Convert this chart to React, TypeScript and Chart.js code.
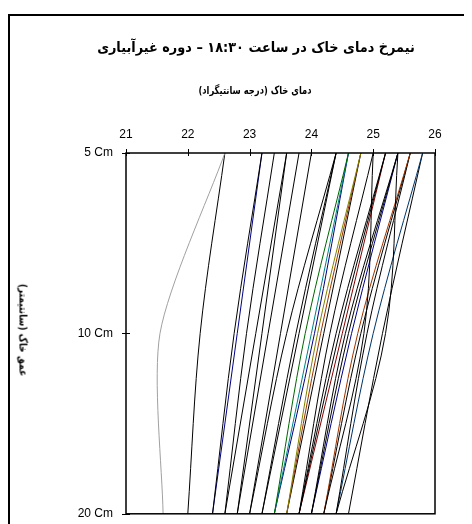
import React, { useEffect, useRef } from 'react';
import { Chart, registerables } from 'chart.js';

Chart.register(...registerables);

const depthLabels = ['5 Cm', '10 Cm', '20 Cm'];
const xTickValues = [21, 22, 23, 24, 25, 26];

// Soil temperature (°C) at each depth, one entry per profile line
const temp5cm = [22.6, 22.6, 23.2, 23.2, 23.4, 23.6, 23.6, 23.8, 24.0, 24.4, 24.4, 24.4, 24.6, 24.6, 24.6, 24.8, 24.8, 24.8, 25.0, 25.0, 25.2, 25.2, 25.2, 25.4, 25.4, 25.4, 25.4, 25.6, 25.6, 25.6, 25.8, 25.8];
const temp10cm = [21.55, 22.2, 22.75, 22.8, 22.95, 23.1, 23.2, 23.3, 23.5, 23.6, 23.75, 23.8, 23.9, 24.0, 24.05, 24.1, 24.15, 24.2, 24.3, 24.85, 24.4, 24.45, 24.5, 24.55, 24.6, 25.2, 24.65, 24.75, 24.8, 24.9, 25.0, 25.15];
const temp20cm = [21.6, 22.0, 22.4, 22.4, 22.6, 22.6, 22.8, 22.8, 23.0, 23.0, 23.2, 23.2, 23.4, 23.4, 23.4, 23.6, 23.6, 23.6, 23.8, 24.2, 23.8, 23.8, 23.8, 24.0, 24.0, 24.4, 24.0, 24.2, 24.2, 24.4, 24.4, 24.6];
const lineColors = ['#a0a0a0', '#000000', '#000000', '#000080', '#000000', '#000000', '#000000', '#000000', '#000000', '#000000', '#000000', '#000000', '#006400', '#008080', '#000080', '#808000', '#993300', '#000000', '#000000', '#000000', '#000000', '#000000', '#800000', '#000000', '#000000', '#000000', '#000080', '#993300', '#000000', '#000000', '#003366', '#000000'];

const titleText = 'نیمرخ دمای خاک در ساعت ۱۸:۳۰ – دوره غیرآبیاری';
const xTitleText = 'دمای خاک (درجه سانتیگراد)';
const yTitleText = 'عمق خاک (سانتیمتر)';

const frameTicksPlugin = {
  id: 'frameTicks',
  afterDraw(chart: any) {
    const { ctx, chartArea, scales } = chart;
    const { left, right, top, bottom } = chartArea;
    ctx.save();
    ctx.strokeStyle = '#000';
    ctx.lineWidth = 1.5;
    ctx.strokeRect(left, top, right - left, bottom - top);
    ctx.lineWidth = 1;
    ctx.beginPath();
    for (const v of xTickValues) {
      const x = Math.round(scales.x.getPixelForValue(v)) + 0.5;
      ctx.moveTo(x, top - 4);
      ctx.lineTo(x, top + 3);
    }
    depthLabels.forEach((_, i) => {
      const y = Math.round(scales.y.getPixelForValue(i)) + 0.5;
      ctx.moveTo(left - 4, y);
      ctx.lineTo(left + 4, y);
    });
    ctx.stroke();
    ctx.restore();
  },
};

function App() {
  const canvasRef = useRef<HTMLCanvasElement | null>(null);

  useEffect(() => {
    if (!canvasRef.current) return;
    const datasets = temp5cm.map((_, i) => ({
      label: 'P' + (i + 1),
      data: [temp5cm[i], temp10cm[i], temp20cm[i]],
      borderColor: lineColors[i],
      borderWidth: 1,
      pointRadius: 0,
      fill: false,
      ...(i === 0 ? { tension: 0.25 } : { cubicInterpolationMode: 'monotone' }),
    }));
    const chart = new Chart(canvasRef.current, {
      type: 'line',
      data: { labels: depthLabels, datasets },
      options: {
        indexAxis: 'y',
        responsive: false,
        animation: false,
        devicePixelRatio: 1,
        layout: { padding: { left: 0, top: 0, right: 37, bottom: 1 } },
        plugins: { legend: { display: false }, tooltip: { enabled: false }, title: { display: false } },
        scales: {
          x: {
            type: 'linear',
            position: 'top',
            min: 21,
            max: 26,
            afterFit: (s: any) => { s.height = 145; },
            grid: { display: false, drawTicks: false },
            border: { display: false },
            ticks: {
              stepSize: 1,
              padding: 11,
              color: '#000',
              font: { family: "'Liberation Sans', Arial, sans-serif", size: 12 },
            },
          },
          y: {
            type: 'category',
            offset: false,
            afterFit: (s: any) => { s.width = 118; },
            grid: { display: false, drawTicks: false },
            border: { display: false },
            ticks: {
              padding: 13,
              color: '#000',
              font: { family: "'Liberation Sans', Arial, sans-serif", size: 12 },
            },
          },
        },
      } as any,
      plugins: [frameTicksPlugin],
    });
    return () => chart.destroy();
  }, []);

  const arabicFont = "'DejaVu Sans', 'Noto Sans', sans-serif";

  return (
    <div style={{ position: 'relative', width: 464, height: 516, overflow: 'hidden', background: '#fff' }}>
      <div style={{ position: 'absolute', left: 0, top: 6, width: 520, height: 600, border: '2px solid #000', boxSizing: 'border-box' }} />
      <canvas ref={canvasRef} width={464} height={526} style={{ position: 'absolute', left: 0, top: 0, width: 464, height: 526 }} />
      <div style={{ position: 'absolute', left: 248, top: 39, transform: 'translate(-50%, -50%) scaleX(0.92)', whiteSpace: 'nowrap', direction: 'rtl', fontFamily: arabicFont, fontWeight: 'bold', fontSize: 14, color: '#000' }}>{titleText}</div>
      <div style={{ position: 'absolute', left: 247, top: 82, transform: 'translate(-50%, -50%) scaleX(0.76)', whiteSpace: 'nowrap', direction: 'rtl', fontFamily: arabicFont, fontWeight: 'bold', fontSize: 11, color: '#000' }}>{xTitleText}</div>
      <div style={{ position: 'absolute', left: 15, top: 322, transform: 'translate(-50%, -50%) rotate(90deg) scaleX(0.82)', whiteSpace: 'nowrap', direction: 'rtl', fontFamily: arabicFont, fontWeight: 'bold', fontSize: 11, color: '#000' }}>{yTitleText}</div>
    </div>
  );
}

export default App;
